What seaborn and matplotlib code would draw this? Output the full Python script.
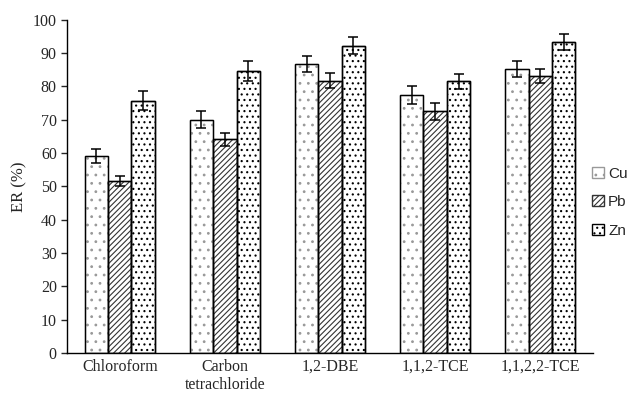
import pandas as pd
import numpy as np
import matplotlib
matplotlib.use("Agg")
import matplotlib.pyplot as plt
import seaborn as sns
from matplotlib.patches import Rectangle

# datos
solventes = ["Chloroform", "Carbon\ntetrachloride", "1,2-DBE", "1,1,2-TCE", "1,1,2,2-TCE"]
metales = ["Cu", "Pb", "Zn"]
er_cu = [59.1, 70.0, 86.7, 77.4, 85.1]
er_pb = [51.7, 64.1, 81.7, 72.5, 83.2]
er_zn = [75.7, 84.7, 92.2, 81.5, 93.4]
err_cu = [2.2, 2.5, 2.5, 2.7, 2.4]
err_pb = [1.5, 1.9, 2.3, 2.5, 2.1]
err_zn = [2.8, 3.0, 2.5, 2.2, 2.4]

df = pd.DataFrame({
    "solvente": solventes * 3,
    "metal": np.repeat(metales, len(solventes)),
    "er": er_cu + er_pb + er_zn,
    "err": err_cu + err_pb + err_zn,
})

sns.set_style("ticks")
plt.rcParams["hatch.linewidth"] = 0.8

fig = plt.figure(figsize=(6.28, 3.98), dpi=100)
ax = fig.add_axes([0.107, 0.113, 0.837, 0.838])

sns.barplot(data=df, x="solvente", y="er", hue="metal", hue_order=metales,
            order=solventes, palette=["white"] * 3, edgecolor="black",
            linewidth=1.0, width=0.67, gap=0, errorbar=None, legend=False, ax=ax)

barras = list(ax.containers)  # guardar antes de los errorbars
tramas = ["..", "//////", "..."]
colores_trama = ["0.6", "0.2", "black"]
for cont, trama, ct, m in zip(barras, tramas, colores_trama, metales):
    errs = df[df.metal == m]["err"].values
    for p, e in zip(cont.patches, errs):
        p.set_hatch(trama)
        p.set_edgecolor(ct)
        # borde negro encima
        ax.add_patch(Rectangle(p.get_xy(), p.get_width(), p.get_height(),
                               fill=False, edgecolor="black", linewidth=1.0))
        ax.errorbar(p.get_x() + p.get_width() / 2, p.get_height(), yerr=e,
                    fmt="none", ecolor="black", elinewidth=1.1, capsize=3.5,
                    capthick=1.1)

ax.set_ylim(0, 100)
ax.set_xlim(-0.5, 4.5)
ax.set_yticks(range(0, 101, 10))
ax.set_xlabel("")
ax.set_ylabel("ER (%)", family="Liberation Serif", fontsize=12)
for t in ax.get_xticklabels() + ax.get_yticklabels():
    t.set_family("Liberation Serif")
    t.set_fontsize(11.5)
ax.tick_params(axis="x", length=0, pad=4)
ax.tick_params(axis="y", length=4, width=1, direction="out")
sns.despine(ax=ax)
for s in ["left", "bottom"]:
    ax.spines[s].set_color("black")
    ax.spines[s].set_linewidth(1.0)

handles = [c.patches[0] for c in barras]
leg = fig.legend(handles, metales, loc="center left", bbox_to_anchor=(0.943, 0.492),
                 frameon=False, handlelength=0.75, handleheight=0.75,
                 handletextpad=0.3, labelspacing=0.95, borderpad=0,
                 borderaxespad=0,
                 prop={"family": "Liberation Sans", "size": 11})

fig.savefig("out.png", dpi=100)
